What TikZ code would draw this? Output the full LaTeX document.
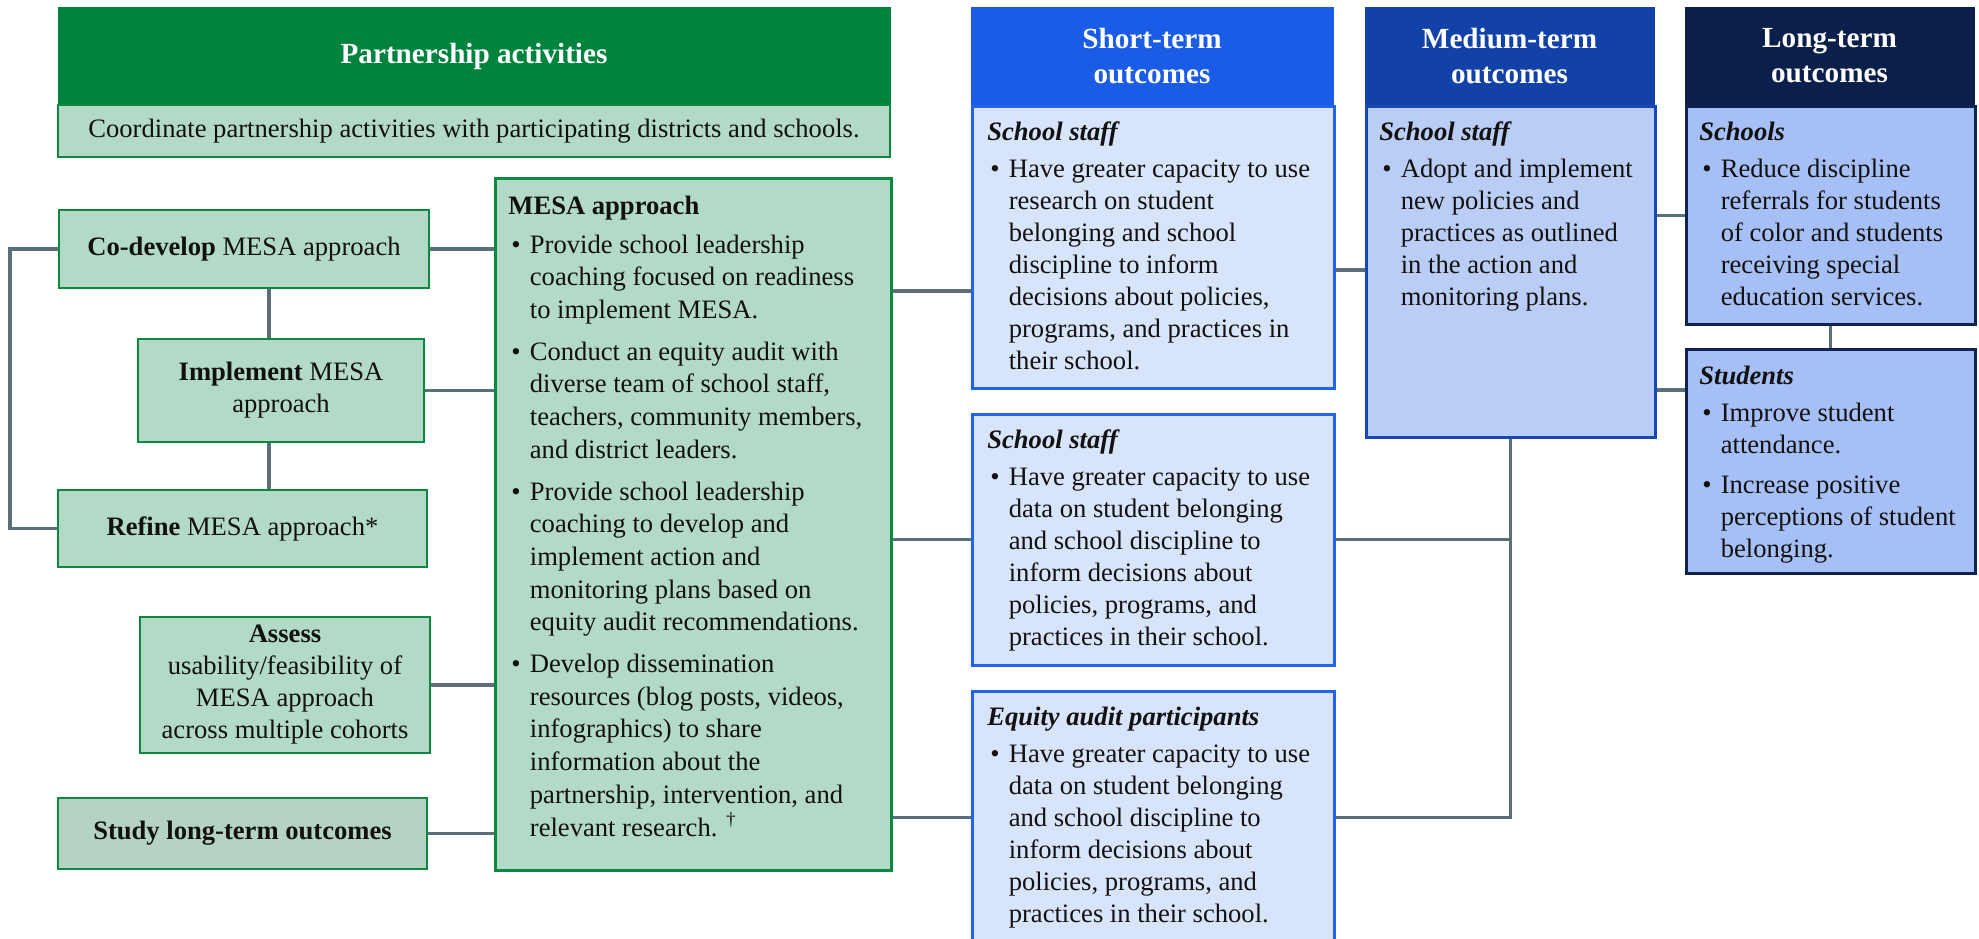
\documentclass[tikz,border=0pt]{standalone}
\usepackage{fontspec}
\setmainfont{Liberation Serif}
\usetikzlibrary{backgrounds}

\definecolor{pgreen}{HTML}{00843D}
\definecolor{lgreen}{HTML}{B3DAC6}
\definecolor{sgreen}{HTML}{B4D3C3}
\definecolor{gborder}{HTML}{0A8A40}
\definecolor{shead}{HTML}{1A5CE6}
\definecolor{sbody}{HTML}{D8E4FA}
\definecolor{sborder}{HTML}{2463EB}
\definecolor{mhead}{HTML}{1242A8}
\definecolor{mbody}{HTML}{B9CDF5}
\definecolor{mborder}{HTML}{1747B5}
\definecolor{lhead}{HTML}{0B1F4B}
\definecolor{lbody}{HTML}{A6BFF5}
\definecolor{lborder}{HTML}{0F2350}
\definecolor{connc}{HTML}{5B6F7B}
\definecolor{ink}{HTML}{111111}

\newcommand{\bodyfont}{\fontsize{13.3pt}{16pt}\selectfont}
\newcommand{\mesafont}{\fontsize{13.3pt}{16.35pt}\selectfont}
\newcommand{\headfont}{\fontsize{14.6pt}{17.5pt}\selectfont\bfseries}

\newlength{\bulw}\setlength{\bulw}{10.75pt}
\newcommand{\bitem}[1]{\par\noindent\hangindent=\bulw\hangafter=1\makebox[\bulw][l]{\hspace{1.5pt}\textbullet}#1\par}
\newcommand{\tb}[5]{\parbox[t][#2][t]{#1}{\leftskip=#3\relax\rightskip=0pt plus 1fil\relax\parfillskip=0pt plus 1fil\relax\vspace*{#4}#5}}

\begin{document}
\begin{tikzpicture}[x=0.5pt,y=-0.5pt,
  hdr/.style={fill=#1, draw=#1, text=white, font=\headfont, align=center, inner sep=0pt},
  lbox/.style={draw=gborder, fill=lgreen, line width=1.4pt, align=center, inner sep=0pt, font=\bodyfont, text=ink},
  tbox/.style={inner sep=0pt, anchor=north west, line width=1.3pt, text=ink},
  cn/.style={draw=connc, line width=1.65pt}]

\useasboundingbox (0,0) rectangle (1979,938);

% ---------- Partnership activities ----------
\node[hdr=pgreen, minimum width=416pt, minimum height=49pt] (phead) at (474,56) {Partnership activities};
\node[lbox, minimum width=416pt, minimum height=26pt] (coord) at (474,131) {Coordinate partnership activities with participating districts and schools.};

\node[lbox, minimum width=185pt, minimum height=39pt] (codev) at (244,249) {\textbf{Co-develop} MESA approach};
\node[lbox, minimum width=143pt, minimum height=51.5pt] (impl) at (281,390.5) {\textbf{Implement} MESA\\approach};
\node[lbox, minimum width=184.5pt, minimum height=38.5pt] (refine) at (242.5,528.5) {\textbf{Refine} MESA approach*};
\node[lbox, minimum width=145pt, minimum height=68pt] (assess) at (285,685) {\textbf{Assess}\\usability/feasibility of\\MESA approach\\across multiple cohorts};
\node[lbox, fill=sgreen, minimum width=184.5pt, minimum height=35.5pt] (study) at (242.5,833.5) {\textbf{Study long-term outcomes}};

\node[tbox, draw=gborder, fill=lgreen, line width=1.4pt] (mesa) at (494,177) {\tb{198pt}{346pt}{6.5pt}{6.6pt}{\mesafont
{\strut\textbf{MESA approach}\par}\vspace{-1.5pt}\parskip=4.5pt
\bitem{Provide school leadership\\coaching focused on readiness\\to implement MESA.}
\bitem{Conduct an equity audit with\\diverse team of school staff,\\teachers, community members,\\and district leaders.}
\bitem{Provide school leadership\\coaching to develop and\\implement action and\\monitoring plans based on\\equity audit recommendations.}
\bitem{Develop dissemination\\resources (blog posts, videos,\\infographics) to share\\information about the\\partnership, intervention, and\\relevant research. \textsuperscript{\textdagger}}}};

% ---------- Short-term ----------
\node[hdr=shead, minimum width=181pt, minimum height=49pt] (shorthead) at (1152,56) {Short-term\\outcomes};
\node[tbox, draw=sborder, fill=sbody] (short1) at (971,105) {\tb{181pt}{141pt}{7.5pt}{5.8pt}{\bodyfont
{\strut\textbf{\textit{School staff}}\par}\vspace{-1.5pt}\parskip=4pt
\bitem{Have greater capacity to use\\research on student\\belonging and school\\discipline to inform\\decisions about policies,\\programs, and practices in\\their school.}}};
\node[tbox, draw=sborder, fill=sbody] (short2) at (971,413) {\tb{181pt}{125.5pt}{7.5pt}{5.8pt}{\bodyfont
{\strut\textbf{\textit{School staff}}\par}\vspace{-1.5pt}\parskip=4pt
\bitem{Have greater capacity to use\\data on student belonging\\and school discipline to\\inform decisions about\\policies, programs, and\\practices in their school.}}};
\node[tbox, draw=sborder, fill=sbody] (short3) at (971,690) {\tb{181pt}{126pt}{7.5pt}{5.8pt}{\bodyfont
{\strut\textbf{\textit{Equity audit participants}}\par}\vspace{-1.5pt}\parskip=4pt
\bitem{Have greater capacity to use\\data on student belonging\\and school discipline to\\inform decisions about\\policies, programs, and\\practices in their school.}}};

% ---------- Medium-term ----------
\node[hdr=mhead, minimum width=144.5pt, minimum height=49pt] (medhead) at (1509.5,56) {Medium-term\\outcomes};
\node[tbox, draw=mborder, fill=mbody] (med) at (1365,105) {\tb{144.5pt}{165.5pt}{6.5pt}{5.8pt}{\bodyfont
{\strut\textbf{\textit{School staff}}\par}\vspace{-1.5pt}\parskip=4pt
\bitem{Adopt and implement\\new policies and\\practices as outlined\\in the action and\\monitoring plans.}}};

% ---------- Long-term ----------
\node[hdr=lhead, minimum width=144.5pt, minimum height=49pt] (longhead) at (1829.5,56) {Long-term\\outcomes};
\node[tbox, draw=lborder, fill=lbody] (schools) at (1685,105) {\tb{144.5pt}{109pt}{6.5pt}{5.8pt}{\bodyfont
{\strut\textbf{\textit{Schools}}\par}\vspace{-1.5pt}\parskip=4pt
\bitem{Reduce discipline\\referrals for students\\of color and students\\receiving special\\education services.}}};
\node[tbox, draw=lborder, fill=lbody] (students) at (1685,348) {\tb{144.5pt}{112pt}{6.5pt}{6.3pt}{\bodyfont
{\strut\textbf{\textit{Students}}\par}\vspace{-1.5pt}\parskip=4pt
\bitem{Improve student\\attendance.}
\bitem{Increase positive\\perceptions of student\\belonging.}}};

% ---------- Connectors ----------
\coordinate (lbr) at (10,0);
\coordinate (vx) at (269,0);
\coordinate (y1) at (0,291);
\coordinate (y2) at (0,270);
\coordinate (y3) at (0,390);
\begin{scope}[on background layer]
\fill[white] (0,0) rectangle (1979,938);
\draw[cn] (codev.east) -- (codev.east -| mesa.west);
\draw[cn] (impl.east) -- (impl.east -| mesa.west);
\draw[cn] (assess.east) -- (assess.east -| mesa.west);
\draw[cn] (study.east) -- (study.east -| mesa.west);
\draw[cn] (codev.west) -- (codev.west -| lbr) |- (refine.west);
\draw[cn] (codev.south -| vx) -- (impl.north -| vx);
\draw[cn] (impl.south -| vx) -- (refine.north -| vx);
\draw[cn] (mesa.east |- y1) -- (short1.west |- y1);
\draw[cn] (short2.west -| mesa.east) -- (short2.west);
\draw[cn] (short3.west -| mesa.east) -- (short3.west);
\draw[cn] (short1.east |- y2) -- (med.west |- y2);
\draw[cn] (short3.east) -| (med.south);
\draw[cn] (short2.east) -- (short2.east -| med.south);
\draw[cn] (med.east |- schools.west) -- (schools.west);
\draw[cn] (med.east |- y3) -- (students.west |- y3);
\draw[cn] (schools.south) -- (students.north);
\end{scope}
\end{tikzpicture}
\end{document}
